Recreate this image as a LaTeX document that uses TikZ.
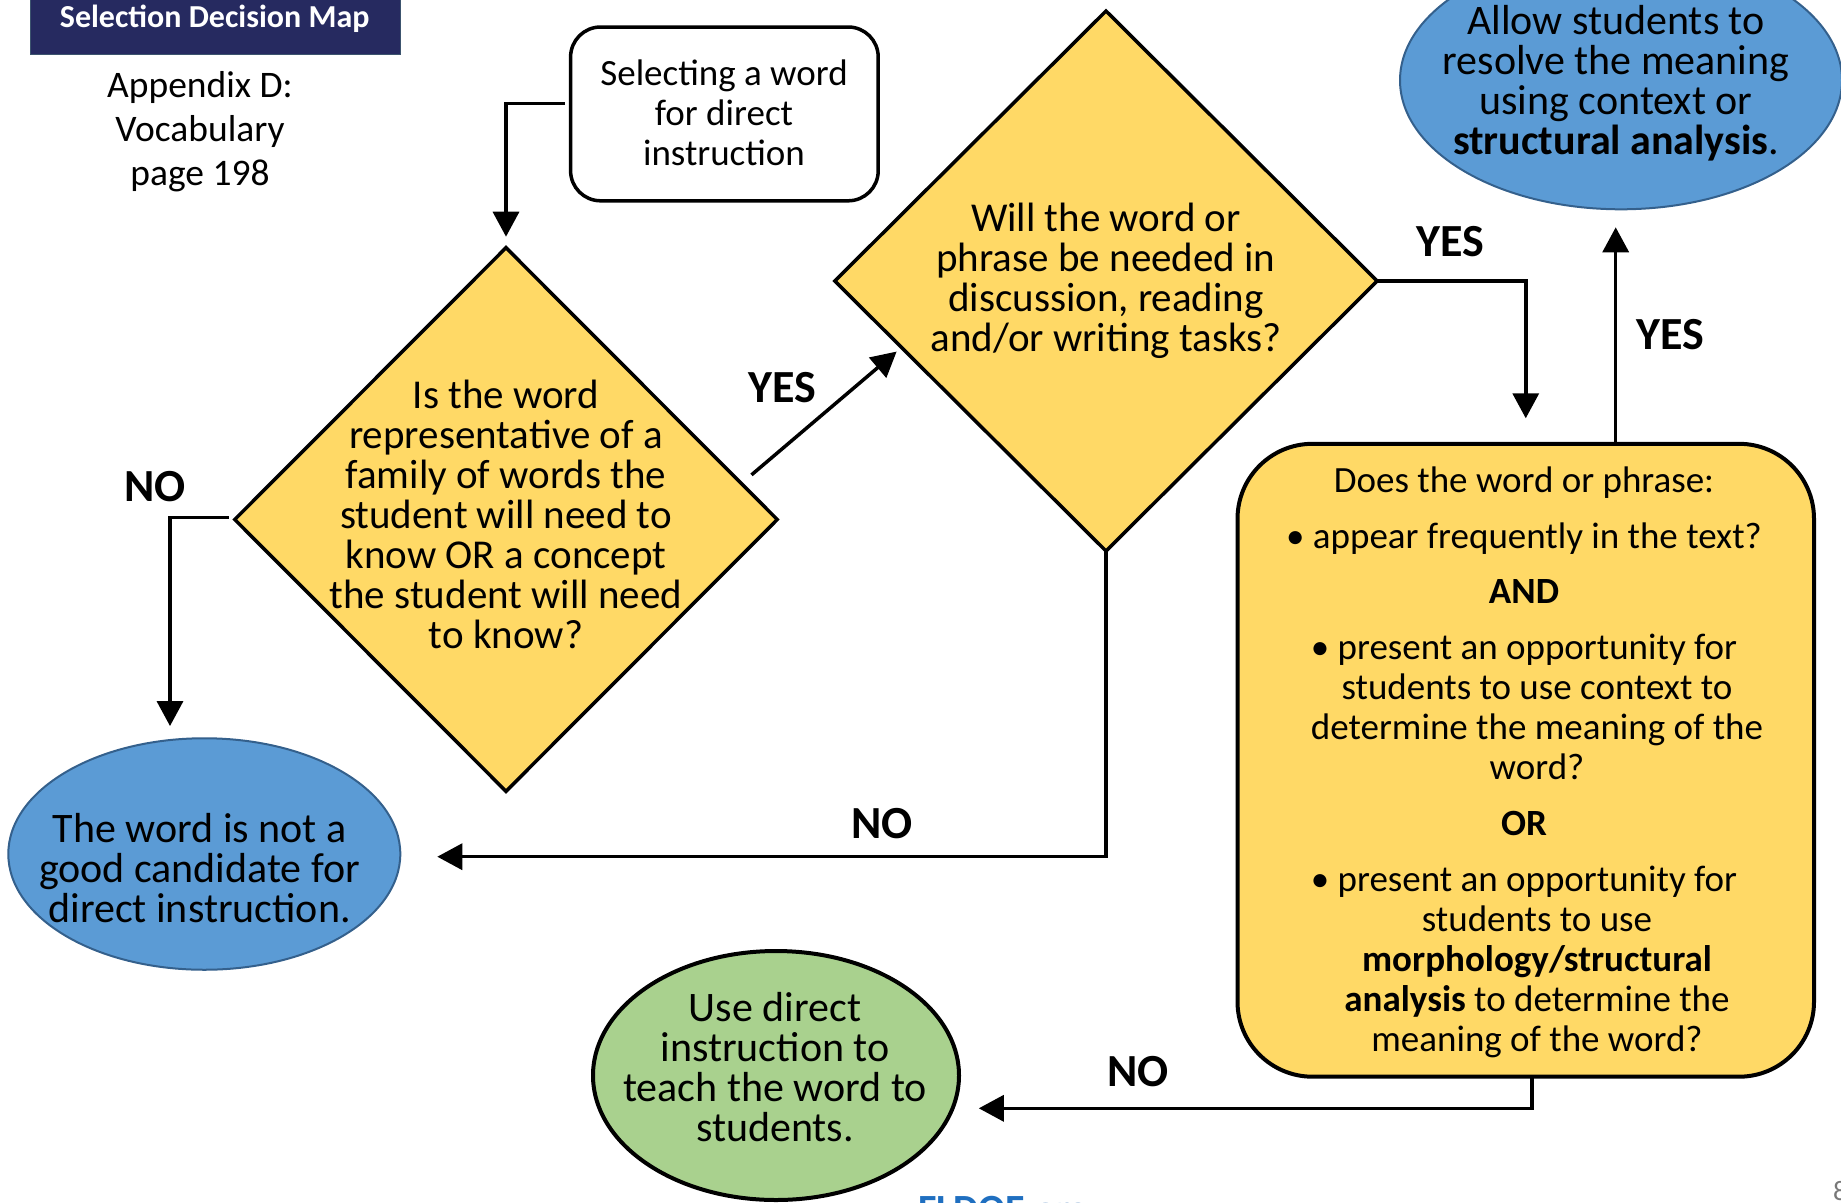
\documentclass[tikz,border=0pt]{standalone}
\usepackage{fontspec}
\setmainfont{Carlito}
\usetikzlibrary{shapes.geometric,arrows.meta,calc}
\definecolor{navy}{RGB}{38,42,96}
\definecolor{navyedge}{RGB}{60,84,110}
\definecolor{gold}{RGB}{255,217,102}
\definecolor{sky}{RGB}{91,155,213}
\definecolor{skyedge}{RGB}{52,96,140}
\definecolor{leaf}{RGB}{169,209,142}
\definecolor{linkblue}{RGB}{31,111,192}
\definecolor{linklight}{RGB}{120,160,205}
\definecolor{pagegray}{RGB}{120,120,120}
\lineskiplimit=-100pt
\newcommand{\shiftedrow}[1]{\mbox{#1\hspace{26pt}}}
\begin{document}
\begin{tikzpicture}[x=1pt,y=-1pt,
  every node/.style={outer sep=0pt},
  body/.style={align=center,inner sep=0pt,font=\fontsize{37}{40}\selectfont},
  bigbody/.style={align=center,inner sep=0pt,font=\fontsize{41}{40}\selectfont},
  ovaltext/.style={align=center,inner sep=0pt,font=\fontsize{42}{40}\selectfont},
  answer/.style={anchor=base,inner sep=0pt,font=\fontsize{46}{46}\selectfont\bfseries},
  decision/.style={diamond,draw=black,fill=gold,line width=3.5pt,inner sep=0pt,aspect=1},
  bluebubble/.style={ellipse,draw=skyedge,fill=sky,line width=2pt,inner sep=0pt},
  greenbubble/.style={ellipse,draw=black,fill=leaf,line width=4pt,inner sep=0pt},
  startbox/.style={rectangle,rounded corners=30pt,draw=black,fill=white,line width=3.5pt,inner sep=0pt},
  checkbox/.style={rectangle,rounded corners=75pt,draw=black,fill=gold,line width=4pt,inner sep=0pt},
  arr/.style={line width=3.5pt,-{Triangle[length=25pt,width=26pt]}},
]
\useasboundingbox (0,0) rectangle (1841,1202);
\clip (0,0) rectangle (1841,1202);

% title and reference
\node[fill=navy,draw=navyedge,line width=1pt,minimum width=369.5pt,minimum height=60pt,inner sep=0pt] (titlebox) at (215.25,24.5) {};
\node[anchor=base,text=white,inner sep=0pt,font=\fontsize{32}{32}\selectfont\bfseries] (title) at (214.7,27) {Selection Decision Map};
\node[align=center,inner sep=0pt,font=\fontsize{37.5}{44}\selectfont] (appendix) at (200,132) {Appendix D:\\Vocabulary\\page 198};

% start box
\node[startbox,minimum width=307.6pt,minimum height=173.8pt] (sel) at (724.4,113.9) {};
\node[body] (selt) at (724,112.3) {Selecting a word\\for direct\\instruction};

% decisions
\node[decision,minimum width=542.5pt,minimum height=543.6pt] (d1) at (506,519.5) {};
\node[bigbody] (d1t) at (506,514.5) {Is the word\\representative of a\\family of words the\\student will need to\\know OR a concept\\the student will need\\to know?};

\node[decision,minimum width=542.4pt,minimum height=540pt] (d2) at (1106,281) {};
\node[bigbody] (d2t) at (1106,280.5) {Will the word or\\phrase be needed in\\discussion, reading\\and/or writing tasks?};

% outcome ovals
\node[bluebubble,minimum width=442pt,minimum height=258pt] (e1) at (1621,80.3) {};
\node[ovaltext] (e1t) at (1616,83) {Allow students to\\resolve the meaning\\using context or\\\textbf{structural analysis}.};

\node[bluebubble,minimum width=392pt,minimum height=231.5pt] (e2) at (204.3,854) {};
\node[ovaltext] (e2t) at (199.6,867.7) {The word is not a\\good candidate for\\direct instruction.};

\node[greenbubble,minimum width=366pt,minimum height=249pt] (e3) at (776,1075.5) {};
\node[ovaltext] (e3t) at (775,1067.2) {Use direct\\instruction to\\teach the word to\\students.};

% third question box
\node[checkbox,minimum width=576.5pt,minimum height=632.9pt] (q3) at (1525.75,760.25) {};
\node[body] (q3t) at (1537,762.5) {\shiftedrow{Does the word or phrase:}\\[16pt]
\shiftedrow{• appear frequently in the text?}\\[15.5pt]
\shiftedrow{\textbf{AND}}\\[16pt]
\shiftedrow{• present an opportunity for}\\
students to use context to\\
determine the meaning of the\\
word?\\[16pt]
\shiftedrow{\textbf{OR}}\\[16pt]
\shiftedrow{• present an opportunity for}\\
students to use\\
\textbf{morphology/structural}\\
\textbf{analysis} to determine the\\
meaning of the word?};

% arrow targets
\coordinate (t1) at ($(d1.north)+(0,-11)$);
\coordinate (t2) at ($(d2.west)!0.228!(d2.south)+(0,9)$);
\coordinate (t3) at ($(q3.north)+(0,-25.5)$);
\coordinate (t4) at ($(e1.south)+(-5.3,18)$);
\coordinate (t5) at ($(e2.north)+(-34.3,-12.2)$);
\coordinate (t6) at ($(e2.east)+(37,2.7)$);
\coordinate (t7) at ($(e3.east)+(19.8,32.8)$);

% connectors
\draw[arr] ($(sel.west)+(-6,-10.6)$) -| (t1);
\draw[arr] ($(d1.east)!0.095!(d1.north)+(0,-18.8)$) -- (t2);
\draw[arr] (d2.east) -| (t3);
\draw[arr] (q3.north -| t4) -- (t4);
\draw[arr] ($(d1.west)+(-6,-2)$) -| (t5);
\draw[arr] (d2.south) |- (t6);
\draw[arr] ($(q3.south)+(6,0)$) |- (t7);

% answers
\node[answer] (yes1) at (782.5,402.3) {YES};
\node[answer] (yes2) at (1450,256.5) {YES};
\node[answer] (yes3) at (1670,349.8) {YES};
\node[answer] (no1) at (155,501.5) {NO};
\node[answer] (no2) at (882,838.1) {NO};
\node[answer] (no3) at (1138,1086.5) {NO};

% footer fragments (cut by the page edge, as in the reference)
\node[anchor=base west,inner sep=0pt,font=\fontsize{40}{40}\selectfont] (site) at (918,1222) {\textcolor{linkblue}{\textbf{FLDOE}}\textcolor{linklight}{.org}};
\node[anchor=base west,inner sep=0pt,text=pagegray,font=\fontsize{28}{28}\selectfont] (pagenum) at (1833,1200.7) {8};
\end{tikzpicture}
\end{document}
